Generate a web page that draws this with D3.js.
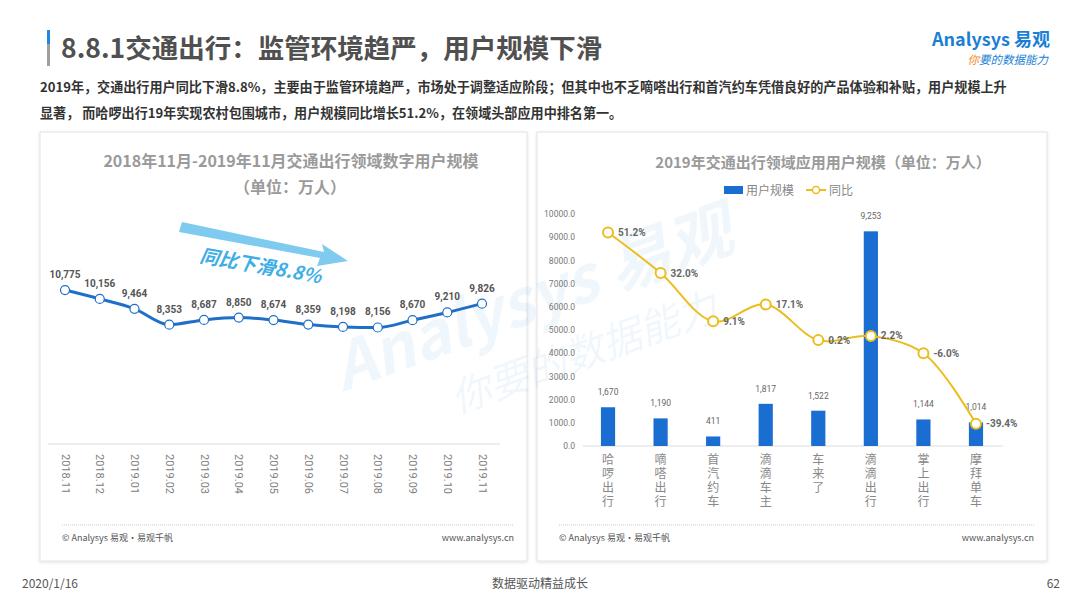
<!DOCTYPE html>
<html>
<head>
<meta charset="utf-8">
<script src="https://cdn.jsdelivr.net/npm/d3@7/dist/d3.min.js"></script>
<style>
  body { margin: 0; background: #fff; }
  svg { font-family: "Noto Sans CJK SC", "Noto Sans", sans-serif; }
</style>
</head>
<body>
<div id="slide"></div>
<script>
// left chart data
var months = ["2018.11", "2018.12", "2019.01", "2019.02", "2019.03", "2019.04", "2019.05",
              "2019.06", "2019.07", "2019.08", "2019.09", "2019.10", "2019.11"];
var monthUsers = [10775, 10156, 9464, 8353, 8687, 8850, 8674, 8359, 8198, 8156, 8670, 9210, 9826];

// right chart data
var apps = ["哈啰出行", "嘀嗒出行", "首汽约车", "滴滴车主", "车来了", "滴滴出行", "掌上出行", "摩拜单车"];
var appUsers = [1670, 1190, 411, 1817, 1522, 9253, 1144, 1014];
var appYoy = [51.2, 32.0, 9.1, 17.1, 0.2, 2.2, -6.0, -39.4];
var userTicks = [0, 1000, 2000, 3000, 4000, 5000, 6000, 7000, 8000, 9000, 10000];

var W = 1080, H = 608;
var svg = d3.select("#slide").append("svg")
    .attr("width", W)
    .attr("height", H);

var defs = svg.append("defs");
var shadow = defs.append("filter").attr("id", "shadow")
    .attr("x", "-5%").attr("y", "-5%").attr("width", "110%").attr("height", "110%");
shadow.append("feDropShadow")
    .attr("dx", 0).attr("dy", 1).attr("stdDeviation", 1.5)
    .attr("flood-color", "#000").attr("flood-opacity", 0.12);

// header
var bar = svg.append("g");
bar.append("rect").attr("x", 47).attr("y", 30).attr("width", 3).attr("height", 14).attr("fill", "#1e88e5");
bar.append("rect").attr("x", 47).attr("y", 44).attr("width", 3).attr("height", 22).attr("fill", "#9e9e9e");

svg.append("text")
    .attr("x", 61).attr("y", 58)
    .attr("font-size", 26.5).attr("font-weight", "bold")
    .attr("fill", "#505050")
    .text("8.8.1交通出行：监管环境趋严，用户规模下滑");

// logo
svg.append("text")
    .attr("x", 1050).attr("y", 46)
    .attr("text-anchor", "end")
    .attr("font-size", 18).attr("font-weight", "bold")
    .attr("fill", "#1a7fd4")
    .text("Analysys 易观");
var slogan = svg.append("text")
    .attr("x", 1048).attr("y", 64)
    .attr("text-anchor", "end")
    .attr("font-size", 11.5).attr("font-style", "italic")
    .attr("fill", "#1a7fd4");
slogan.append("tspan").attr("fill", "#f08a1c").text("你");
slogan.append("tspan").text("要的数据能力");

// intro text
var intro = [
  "2019年，交通出行用户同比下滑8.8%，主要由于监管环境趋严，市场处于调整适应阶段；但其中也不乏嘀嗒出行和首汽约车凭借良好的产品体验和补贴，用户规模上升",
  "显著， 而哈啰出行19年实现农村包围城市，用户规模同比增长51.2%，在领域头部应用中排名第一。"
];
svg.append("g").selectAll("text")
    .data(intro)
    .enter().append("text")
    .attr("x", 40)
    .attr("y", function(d, i) { return 92 + i * 26; })
    .attr("font-size", 13.1).attr("font-weight", "bold")
    .attr("fill", "#333")
    .text(function(d) { return d; });

// panels
var panels = [{x: 40, w: 487}, {x: 537, w: 510}];
panels.forEach(function(p) {
    svg.append("rect")
        .attr("x", p.x).attr("y", 132)
        .attr("width", p.w).attr("height", 429)
        .attr("fill", "#fff")
        .attr("stroke", "#e4e4e4")
        .attr("filter", "url(#shadow)");
    svg.append("line")
        .attr("x1", p.x + 22).attr("x2", p.x + p.w - 13)
        .attr("y1", 525).attr("y2", 525)
        .attr("stroke", "#c8c8c8").attr("stroke-dasharray", "1,1");
    svg.append("text")
        .attr("x", p.x + 22).attr("y", 541)
        .attr("font-size", 9).attr("fill", "#555")
        .text("© Analysys 易观·易观千帆");
    svg.append("text")
        .attr("x", p.x + p.w - 13).attr("y", 541)
        .attr("text-anchor", "end")
        .attr("font-size", 9).attr("fill", "#555")
        .text("www.analysys.cn");
});

// watermark
var wm = svg.append("g")
    .attr("transform", "translate(540,320) rotate(-20)")
    .attr("opacity", 0.06);
wm.append("text")
    .attr("x", 0).attr("y", 0)
    .attr("text-anchor", "middle")
    .attr("font-size", 64).attr("font-weight", "bold").attr("font-style", "italic")
    .attr("fill", "#1a7fd4")
    .text("Analysys 易观");
wm.append("text")
    .attr("x", 30).attr("y", 60)
    .attr("text-anchor", "middle")
    .attr("font-size", 40).attr("font-style", "italic")
    .attr("fill", "#1a7fd4")
    .text("你要的数据能力");

// ---------- left chart ----------
svg.append("text")
    .attr("x", 291).attr("y", 167)
    .attr("text-anchor", "middle")
    .attr("font-size", 16).attr("font-weight", "bold").attr("fill", "#9a9a9a")
    .text("2018年11月-2019年11月交通出行领域数字用户规模");
svg.append("text")
    .attr("x", 290).attr("y", 193)
    .attr("text-anchor", "middle")
    .attr("font-size", 16).attr("font-weight", "bold").attr("fill", "#9a9a9a")
    .text("（单位：万人）");

var lx = d3.scalePoint()
    .domain(months)
    .range([65, 482]);
var ly = d3.scaleLinear()
    .domain([0, 14000])
    .range([444, 244]);

var left = svg.append("g");

left.append("g")
    .attr("transform", "translate(0,444)")
    .call(d3.axisBottom(lx).tickSize(0).tickPadding(0))
    .call(function(g) {
        g.select(".domain").attr("stroke", "#dcdcdc").attr("d", "M48,0H500");
        g.selectAll("text")
            .attr("transform", "rotate(90)")
            .attr("text-anchor", "start")
            .attr("x", 10).attr("y", 0).attr("dy", "0.35em")
            .attr("font-size", 11).attr("fill", "#808080")
            .attr("font-family", "Roboto, sans-serif");
    });

// arrow
left.append("path")
    .attr("d", "M182,222 L324,252 L322,244 L348,261 L317,266 L320,258 L179,232 Z")
    .attr("fill", "#7fcbf0");
left.append("text")
    .attr("transform", "translate(199,262) rotate(10)")
    .attr("font-size", 19).attr("font-weight", "bold").attr("font-style", "italic")
    .attr("fill", "#3eaee6")
    .text("同比下滑8.8%");

var monthLine = d3.line()
    .x(function(d, i) { return lx(months[i]); })
    .y(function(d) { return ly(d); })
    .curve(d3.curveMonotoneX);

left.append("path")
    .datum(monthUsers)
    .attr("d", monthLine)
    .attr("fill", "none")
    .attr("stroke", "#1f6fc8")
    .attr("stroke-width", 3);

left.selectAll("circle")
    .data(monthUsers)
    .enter().append("circle")
    .attr("cx", function(d, i) { return lx(months[i]); })
    .attr("cy", function(d) { return ly(d); })
    .attr("r", 4.5)
    .attr("fill", "#fff")
    .attr("stroke", "#1f6fc8")
    .attr("stroke-width", 1.2);

left.selectAll(".val")
    .data(monthUsers)
    .enter().append("text")
    .attr("class", "val")
    .attr("x", function(d, i) { return lx(months[i]); })
    .attr("y", function(d) { return ly(d) - 12; })
    .attr("text-anchor", "middle")
    .attr("font-size", 10).attr("font-weight", "bold")
    .attr("font-family", "Roboto, sans-serif")
    .attr("fill", "#555")
    .text(function(d) { return d3.format(",")(d); });

// ---------- right chart ----------
svg.append("text")
    .attr("x", 823).attr("y", 168)
    .attr("text-anchor", "middle")
    .attr("font-size", 15).attr("font-weight", "bold").attr("fill", "#9a9a9a")
    .text("2019年交通出行领域应用用户规模（单位：万人）");

var legend = svg.append("g").attr("font-size", 12).attr("fill", "#888");
legend.append("rect").attr("x", 724).attr("y", 186).attr("width", 19).attr("height", 8).attr("fill", "#1a6dd1");
legend.append("text").attr("x", 746).attr("y", 195).attr("fill", "#888").text("用户规模");
legend.append("line").attr("x1", 806).attr("x2", 826).attr("y1", 190).attr("y2", 190)
    .attr("stroke", "#ecbd1e").attr("stroke-width", 2);
legend.append("circle").attr("cx", 816).attr("cy", 190).attr("r", 3.5)
    .attr("fill", "#fff").attr("stroke", "#ecbd1e").attr("stroke-width", 1.5);
legend.append("text").attr("x", 829).attr("y", 195).attr("fill", "#888").text("同比");

var rx = d3.scaleBand()
    .domain(apps)
    .range([582, 1002])
    .paddingInner(0.73)
    .paddingOuter(0.36);
var ry = d3.scaleLinear()
    .domain([0, 10000])
    .range([446, 214]);
var ry2 = d3.scaleLinear()
    .domain([-50, 60])
    .range([446, 214]);

var right = svg.append("g");

right.append("g")
    .attr("transform", "translate(579,0)")
    .call(d3.axisLeft(ry).tickValues(userTicks).tickSize(0).tickPadding(4).tickFormat(d3.format(".1f")))
    .call(function(g) {
        g.select(".domain").remove();
        g.selectAll("text")
            .attr("font-size", 8.5).attr("fill", "#777")
            .attr("font-family", "Roboto, sans-serif");
    });

right.append("g")
    .attr("transform", "translate(0,446)")
    .call(d3.axisBottom(rx).tickSize(0).tickFormat(""))
    .call(function(g) {
        g.select(".domain").attr("stroke", "#dcdcdc").attr("d", "M583,0H1003");
    });

// vertical category labels
right.selectAll(".cat")
    .data(apps)
    .enter().append("text")
    .attr("class", "cat")
    .attr("x", function(d) { return rx(d) + rx.bandwidth() / 2; })
    .attr("y", 453)
    .attr("font-size", 12).attr("fill", "#888")
    .style("writing-mode", "vertical-rl")
    .style("text-orientation", "upright")
    .style("letter-spacing", "2px")
    .text(function(d) { return d; });

right.selectAll(".bar")
    .data(appUsers)
    .enter().append("rect")
    .attr("class", "bar")
    .attr("x", function(d, i) { return rx(apps[i]); })
    .attr("y", function(d) { return ry(d); })
    .attr("width", rx.bandwidth())
    .attr("height", function(d) { return ry(0) - ry(d); })
    .attr("fill", "#1a6dd1");

right.selectAll(".barval")
    .data(appUsers)
    .enter().append("text")
    .attr("class", "barval")
    .attr("x", function(d, i) { return rx(apps[i]) + rx.bandwidth() / 2; })
    .attr("y", function(d) { return ry(d) - 12; })
    .attr("text-anchor", "middle")
    .attr("font-size", 8.5).attr("fill", "#666")
    .attr("font-family", "Roboto, sans-serif")
    .text(function(d) { return d3.format(",")(d); });

var yoyLine = d3.line()
    .x(function(d, i) { return rx(apps[i]) + rx.bandwidth() / 2; })
    .y(function(d) { return ry2(d); })
    .curve(d3.curveCatmullRom.alpha(0.5));

right.append("path")
    .datum(appYoy)
    .attr("d", yoyLine)
    .attr("fill", "none")
    .attr("stroke", "#ecbd1e")
    .attr("stroke-width", 2);

right.selectAll(".yoy")
    .data(appYoy)
    .enter().append("circle")
    .attr("class", "yoy")
    .attr("cx", function(d, i) { return rx(apps[i]) + rx.bandwidth() / 2; })
    .attr("cy", function(d) { return ry2(d); })
    .attr("r", 5)
    .attr("fill", "#fff")
    .attr("stroke", "#ecbd1e")
    .attr("stroke-width", 2);

right.selectAll(".yoyval")
    .data(appYoy)
    .enter().append("text")
    .attr("class", "yoyval")
    .attr("x", function(d, i) { return rx(apps[i]) + rx.bandwidth() / 2 + 10; })
    .attr("y", function(d) { return ry2(d); })
    .attr("dy", "0.35em")
    .attr("font-size", 10).attr("font-weight", "bold")
    .attr("font-family", "Roboto, sans-serif")
    .attr("fill", "#666")
    .text(function(d) { return d.toFixed(1) + "%"; });

// slide footer
var foot = svg.append("g").attr("font-size", 12).attr("fill", "#555");
foot.append("text").attr("x", 22).attr("y", 588).text("2020/1/16");
foot.append("text").attr("x", 540).attr("y", 588).attr("text-anchor", "middle").text("数据驱动精益成长");
foot.append("text").attr("x", 1060).attr("y", 588).attr("text-anchor", "end").text("62");
</script>
</body>
</html>
